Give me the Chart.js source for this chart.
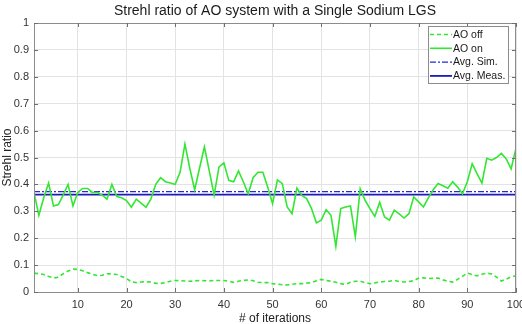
<!DOCTYPE html>
<html>
<head>
<meta charset="utf-8">
<script src="https://cdn.jsdelivr.net/npm/chart.js@4/dist/chart.umd.min.js"></script>
<style>
html,body{margin:0;padding:0;background:#fff;}
#wrap{width:522px;height:324px;position:relative;}
</style>
</head>
<body>
<div id="wrap"><canvas id="c" width="522" height="324"></canvas></div>
<script>
const titleText = "Strehl ratio of AO system with a Single Sodium LGS";
const xLabel = "# of iterations";
const yLabel = "Strehl ratio";
const xTicks = [10, 20, 30, 40, 50, 60, 70, 80, 90, 100];
const iterations = Array.from({length: 100}, (_, i) => i + 1);

const aoOff = [
0.070,0.068,0.065,0.058,0.052,0.055,0.068,0.078,0.085,0.084,
0.079,0.072,0.066,0.061,0.062,0.068,0.067,0.065,0.058,0.050,
0.038,0.035,0.037,0.038,0.037,0.032,0.032,0.035,0.040,0.043,
0.042,0.041,0.040,0.041,0.043,0.042,0.041,0.043,0.043,0.043,
0.040,0.036,0.040,0.043,0.045,0.042,0.036,0.035,0.035,0.031,
0.029,0.027,0.026,0.029,0.031,0.031,0.033,0.035,0.042,0.047,
0.043,0.040,0.036,0.031,0.028,0.036,0.040,0.040,0.035,0.031,
0.034,0.037,0.039,0.040,0.043,0.039,0.037,0.039,0.042,0.051,
0.053,0.050,0.051,0.052,0.045,0.040,0.037,0.047,0.058,0.070,
0.065,0.060,0.066,0.070,0.067,0.055,0.041,0.048,0.056,0.060
];

const aoOn = [
0.370,0.285,0.350,0.405,0.320,0.325,0.360,0.400,0.320,0.370,
0.385,0.385,0.370,0.370,0.360,0.345,0.400,0.355,0.350,0.340,
0.315,0.345,0.330,0.315,0.345,0.400,0.425,0.410,0.405,0.400,
0.445,0.550,0.460,0.380,0.460,0.540,0.450,0.360,0.465,0.480,
0.415,0.410,0.450,0.410,0.365,0.425,0.445,0.445,0.390,0.328,
0.417,0.403,0.316,0.291,0.386,0.359,0.347,0.310,0.257,0.267,
0.306,0.285,0.170,0.310,0.316,0.320,0.205,0.384,0.341,0.310,
0.281,0.334,0.279,0.267,0.304,0.290,0.275,0.291,0.353,0.335,
0.316,0.350,0.380,0.403,0.395,0.386,0.410,0.390,0.365,0.410,
0.477,0.440,0.405,0.497,0.490,0.500,0.515,0.495,0.458,0.535
];

const avgSim = 0.373;
const avgMeas = 0.362;
const xRange = [1, 100];
const yRange = [0, 1];

const green = '#33e633';
const blueSim = '#2a2ad0';
const blueMeas = '#1c1cb8';
const FONT = '"Liberation Sans", Arial, Helvetica, sans-serif';

const toXY = arr => arr.map((v, i) => ({x: iterations[i], y: v}));

const decorPlugin = {
  id: 'decor',
  afterDraw(chart) {
    const ctx = chart.ctx, a = chart.chartArea;
    const xs = chart.scales.x, ys = chart.scales.y;
    ctx.save();
    ctx.strokeStyle = '#8c8c8c';
    ctx.lineWidth = 1;
    ctx.strokeRect(Math.round(a.left)+0.5, Math.round(a.top)+0.5, Math.round(a.right-a.left)-1, Math.round(a.bottom-a.top));
    ctx.strokeStyle = '#6e6e6e';
    ctx.beginPath();
    xs.ticks.forEach(t => {
      const px = Math.round(xs.getPixelForValue(t.value)) + 0.5;
      ctx.moveTo(px, a.bottom); ctx.lineTo(px, a.bottom - 4);
      ctx.moveTo(px, a.top); ctx.lineTo(px, a.top + 4);
    });
    ys.ticks.forEach(t => {
      const py = Math.round(ys.getPixelForValue(t.value)) + 0.5;
      ctx.moveTo(a.left, py); ctx.lineTo(a.left + 4, py);
      ctx.moveTo(a.right, py); ctx.lineTo(a.right - 4, py);
    });
    ctx.stroke();
    ctx.fillStyle = '#1a1a1a';
    ctx.font = '14px ' + FONT;
    ctx.textAlign = 'center';
    ctx.textBaseline = 'middle';
    ctx.fillText(titleText, (a.left + a.right) / 2, 11);
    const bx = 428, by = 26, bw = 80, bh = 57;
    ctx.fillStyle = '#fff';
    ctx.fillRect(bx, by, bw, bh);
    ctx.strokeStyle = '#8c8c8c';
    ctx.strokeRect(bx + 0.5, by + 0.5, bw, bh);
    ctx.font = '10.5px ' + FONT;
    ctx.textAlign = 'left';
    chart.data.datasets.forEach((ds, i) => {
      const cy = by + 8.5 + i * 13.8;
      ctx.strokeStyle = ds.borderColor;
      ctx.lineWidth = ds.borderWidth;
      ctx.setLineDash(ds.borderDash || []);
      ctx.beginPath();
      ctx.moveTo(bx + 2, cy); ctx.lineTo(bx + 24, cy);
      ctx.stroke();
      ctx.setLineDash([]);
      ctx.fillStyle = '#1a1a1a';
      ctx.fillText(ds.label, bx + 25, cy + 0.5);
    });
    ctx.restore();
  }
};

new Chart(document.getElementById('c'), {
  type: 'line',
  data: {
    datasets: [
      {label: 'AO off', data: toXY(aoOff), borderColor: green, borderWidth: 1.6, borderDash: [4, 3], pointRadius: 0, fill: false, tension: 0},
      {label: 'AO on', data: toXY(aoOn), borderColor: green, borderWidth: 1.6, pointRadius: 0, fill: false, tension: 0},
      {label: 'Avg. Sim.', data: [{x: xRange[0], y: avgSim}, {x: xRange[1], y: avgSim}], borderColor: blueSim, borderWidth: 1.4, borderDash: [6, 2, 2, 2], pointRadius: 0, fill: false},
      {label: 'Avg. Meas.', data: [{x: xRange[0], y: avgMeas}, {x: xRange[1], y: avgMeas}], borderColor: blueMeas, borderWidth: 1.8, pointRadius: 0, fill: false}
    ]
  },
  options: {
    responsive: false,
    animation: false,
    events: [],
    layout: {padding: {top: 23, right: 6, left: 0, bottom: 0}},
    plugins: {legend: {display: false}, tooltip: {enabled: false}, title: {display: false}},
    scales: {
      x: {
        type: 'linear', min: xRange[0], max: xRange[1],
        afterBuildTicks: s => { s.ticks = xTicks.map(v => ({value: v})); },
        ticks: {color: '#333', font: {family: FONT, size: 11}, padding: 6, maxRotation: 0},
        grid: {color: '#e3e3e3', drawTicks: false},
        border: {color: '#8c8c8c'},
        title: {display: true, text: xLabel, color: '#222', font: {family: FONT, size: 12}, padding: {top: 3, bottom: -2}},
        afterFit: s => { s.height = 32; s.paddingRight = 0; s.paddingLeft = 0; }
      },
      y: {
        min: yRange[0], max: yRange[1],
        ticks: {stepSize: 0.1, color: '#333', font: {family: FONT, size: 11}, padding: 5,
          callback: v => { const r = Math.round(v * 10) / 10; return r === 0 ? '0' : r === 1 ? '1' : r.toFixed(1); }},
        grid: {color: '#e3e3e3', drawTicks: false},
        border: {color: '#8c8c8c'},
        title: {display: true, text: yLabel, color: '#222', font: {family: FONT, size: 12}, padding: {top: 0, bottom: 0}},
        afterFit: s => { s.width = 34; s.paddingTop = 0; s.paddingBottom = 0; }
      }
    }
  },
  plugins: [decorPlugin]
});
</script>
</body>
</html>
